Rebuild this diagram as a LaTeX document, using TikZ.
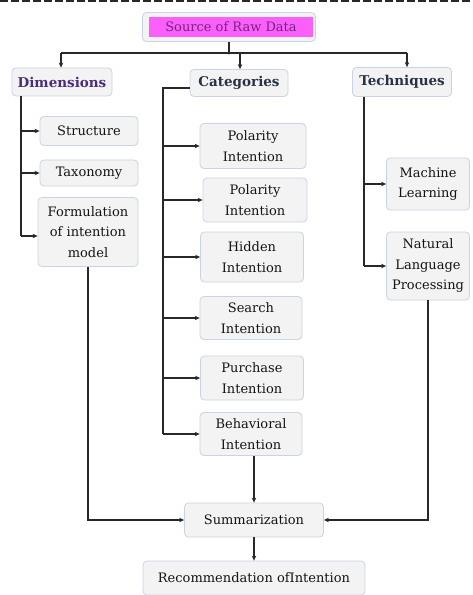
\documentclass[tikz,border=0pt]{standalone}
\usepackage{fontspec}
\setmainfont{DejaVu Serif}
\usetikzlibrary{arrows.meta}
\definecolor{boxfill}{RGB}{243,243,244}
\definecolor{boxdraw}{RGB}{200,212,230}
\definecolor{linec}{RGB}{40,40,40}
\definecolor{srcmag}{RGB}{250,95,250}
\definecolor{srctext}{RGB}{120,35,130}
\definecolor{dimtext}{RGB}{75,45,125}
\definecolor{headtext}{RGB}{40,50,70}
\definecolor{bodytext}{RGB}{20,20,20}
\tikzset{
  box/.style={rounded corners=4bp, fill=boxfill, draw=boxdraw, line width=0.8bp,
    align=center, inner sep=1bp, text=bodytext,
    font=\rmfamily\fontsize{13bp}{20.5bp}\selectfont},
  head/.style={box, font=\rmfamily\fontsize{13.5bp}{20bp}\selectfont\bfseries, text=headtext},
  conn/.style={draw=linec, line width=1.3bp},
  arr/.style={conn, -{Stealth[length=5bp,width=4.5bp]}}
}
\begin{document}
\begin{tikzpicture}[x=1bp,y=-1bp]
\useasboundingbox (0,0) rectangle (473,595);
\fill[white] (0,0) rectangle (473,595);
\draw[linec, line width=1.5bp, dash pattern=on 8bp off 3bp] (0,1) -- (473,1);

% top
\node[box, minimum width=173bp, minimum height=29bp] (srcbg) at (229,27) {};
\node[fill=srcmag, minimum width=164bp, minimum height=20bp, inner sep=0pt,
      text=srctext, font=\rmfamily\fontsize{13bp}{20bp}\selectfont] (src) at (231,27) {Source of Raw Data};

\node[head, text=dimtext, minimum width=100bp, minimum height=28bp] (dim) at (62,82) {Dimensions};
\node[head, minimum width=98bp, minimum height=27bp] (cat) at (239,83) {Categories};
\node[head, minimum width=99bp, minimum height=29bp] (tech) at (402,82) {Techniques};

% dimensions
\node[box, minimum width=98bp, minimum height=29bp] (str) at (89,131) {Structure};
\node[box, minimum width=98bp, minimum height=26bp] (tax) at (89,173) {Taxonomy};
\node[box, minimum width=100bp, minimum height=69bp] (form) at (88,232) {Formulation\\of intention\\model};

% categories
\node[box, minimum width=106bp, minimum height=45bp] (pol1) at (253,146) {Polarity\\Intention};
\node[box, minimum width=104bp, minimum height=44bp] (pol2) at (255,200) {Polarity\\Intention};
\node[box, minimum width=103bp, minimum height=50bp] (hid) at (252,257) {Hidden\\Intention};
\node[box, minimum width=102bp, minimum height=43bp] (sea) at (251,318) {Search\\Intention};
\node[box, minimum width=103bp, minimum height=44bp] (pur) at (252,378) {Purchase\\Intention};
\node[box, minimum width=102bp, minimum height=43bp] (beh) at (251,434) {Behavioral\\Intention};

% techniques
\node[box, minimum width=83bp, minimum height=52bp] (ml) at (428,184) {Machine\\Learning};
\node[box, minimum width=83bp, minimum height=68bp] (nlp) at (428,266) {Natural\\Language\\Processing};

% bottom
\node[box, minimum width=139bp, minimum height=34bp] (sum) at (254,520) {Summarization};
\node[box, minimum width=222bp, minimum height=34bp] (rec) at (254,578) {Recommendation ofIntention};

% bus
\coordinate (bus) at (229,53);
\coordinate (busL) at (61,53);
\coordinate (busC) at (240,53);
\coordinate (busR) at (407,53);
\draw[conn] (srcbg.south) -- (bus);
\draw[conn] (busL) -- (busR);
\fill[linec] (bus) circle (1.6bp);
\draw[arr] (busL) -- (busL |- dim.north);
\draw[arr] (busC) -- (busC |- cat.north);
\draw[arr] (busR) -- (busR |- tech.north);

% dimension tree
\coordinate (dt) at (21,96);
\draw[conn] (dt) -- (21,236) coordinate (dtend);
\draw[arr] (dt |- str) -- (str.west);
\draw[arr] (dt |- tax) -- (tax.west);
\draw[arr] (dtend) -- (dtend -| form.west);

% category tree
\coordinate (ct) at (163,88);
\draw[conn] (ct -| cat.west) -- (ct) -- (ct |- beh);
\foreach \n in {pol1,pol2,hid,sea,pur,beh}{
  \draw[arr] (ct |- \n) -- (\n.west);
}

% technique tree
\coordinate (tt) at (364,97);
\draw[conn] (tt) -- (tt |- nlp);
\draw[arr] (tt |- ml) -- (ml.west);
\draw[arr] (tt |- nlp) -- (nlp.west);

% to summarization
\draw[arr] (form.south) |- (sum.west);
\draw[arr] (nlp.south) |- (sum.east);
\draw[arr] (beh.south -| sum.north) -- (sum.north);
\draw[arr] (sum.south) -- (rec.north);
\end{tikzpicture}
\end{document}
